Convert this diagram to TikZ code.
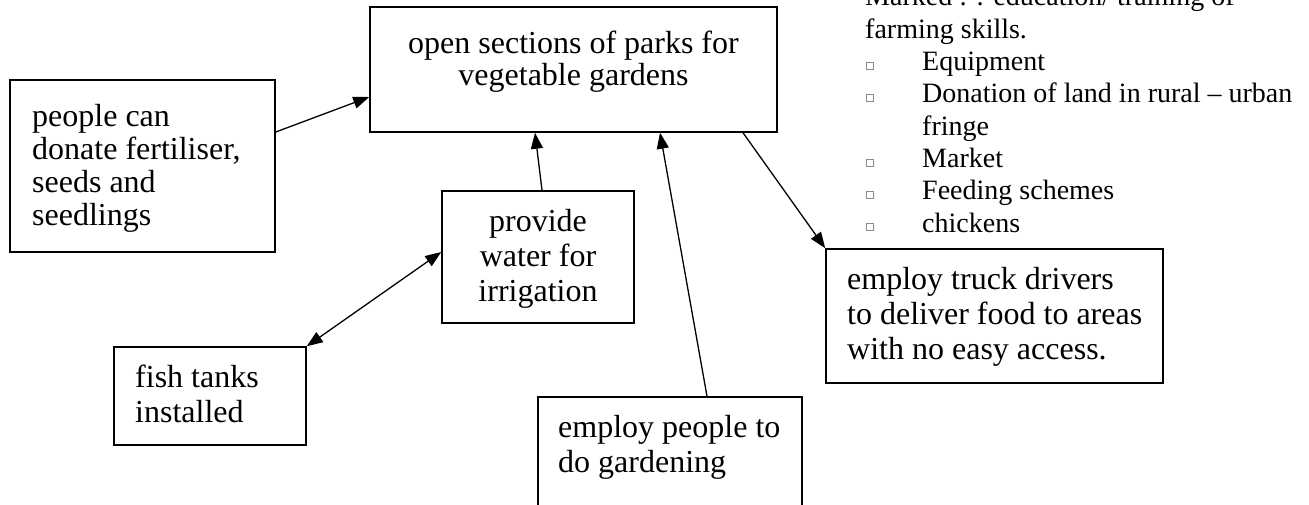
\documentclass[tikz,border=0pt]{standalone}
\usepackage{fontspec}
\setmainfont{Liberation Serif}
\usetikzlibrary{arrows.meta}
\newcommand\mylines[2][l]{\begin{tabular}[t]{@{}#1@{}}#2\end{tabular}}
\begin{document}
\begin{tikzpicture}[x=1pt,y=-1pt,
  box/.style={draw=black,line width=1.5pt,inner sep=0pt,fill=white},
  boxtext/.style={inner sep=0pt,font=\fontsize{32}{35}\selectfont},
  listtext/.style={inner sep=0pt,anchor=base west,font=\fontsize{28}{32.3}\selectfont},
  bul/.style={draw=black!45,line width=0.5pt,minimum size=7pt,inner sep=0pt},
  conn/.style={line width=1.3pt,-{Triangle[length=16pt,width=12pt]}},
  conn2/.style={line width=1.3pt,{Triangle[length=16pt,width=12pt]}-{Triangle[length=16pt,width=12pt]}}]
\useasboundingbox (0,0) rectangle (1309,505);
\clip (0,0) rectangle (1309,505);
% boxes
\node[box,minimum width=407pt,minimum height=125pt] (top) at (573.5,69.5) {};
\node[box,minimum width=265pt,minimum height=172pt] (ppl) at (142.5,166) {};
\node[box,minimum width=192pt,minimum height=132pt] (water) at (538,257) {};
\node[box,minimum width=192pt,minimum height=98pt] (fish) at (210,396) {};
\node[box,minimum width=264pt,minimum height=110pt] (emp) at (670,452) {};
\node[box,minimum width=337pt,minimum height=134pt] (truck) at (994.5,316) {};
% texts
\node[boxtext,anchor=base] (topT) at (573.5,54) {\mylines[c]{open sections of parks for\\[-3pt]vegetable gardens}};
\node[boxtext,anchor=base west] (pplT) at (32,127) {\mylines{people can\\[-2pt]donate fertiliser,\\[-2pt]seeds and\\[-2pt]seedlings}};
\node[boxtext,anchor=base] (waterT) at (538,232) {\mylines[c]{provide\\water for\\irrigation}};
\node[boxtext,anchor=base west] (fishT) at (135,387) {\mylines{fish tanks\\installed}};
\node[boxtext,anchor=base west] (empT) at (558,437) {\mylines{employ people to\\do gardening}};
\node[boxtext,anchor=base west] (truckT) at (847,289) {\mylines{employ truck drivers\\to deliver food to areas\\with no easy access.}};
% list
\node[listtext] (l0) at (865,6) {Marked : : education/ training of};
\node[listtext] (l1) at (865,38.3) {farming skills.};
\node[listtext] (l2) at (922,70.6) {Equipment};
\node[listtext] (l3) at (922,102.9) {Donation of land in rural – urban};
\node[listtext] (l4) at (922,135.2) {fringe};
\node[listtext] (l5) at (922,167.5) {Market};
\node[listtext] (l6) at (922,199.8) {Feeding schemes};
\node[listtext] (l7) at (922,232.1) {chickens};
\foreach \i/\y in {2/70.6,3/102.9,5/167.5,6/199.8,7/232.1}
  \node[bul] (b\i) at (870,\y-5) {};
% connectors
\draw[conn] ([yshift=34pt]ppl.east) -- ([yshift=-27.5pt]top.west);
\draw[conn] ([xshift=4pt]water.north) -- ([xshift=-38.5pt]top.south);
\draw[conn] ([xshift=37pt]emp.north) -- ([xshift=86.5pt]top.south);
\draw[conn] ([xshift=169.5pt]top.south) -- (truck.north west);
\draw[conn2] (fish.north east) -- ([yshift=5pt]water.west);
\end{tikzpicture}
\end{document}
